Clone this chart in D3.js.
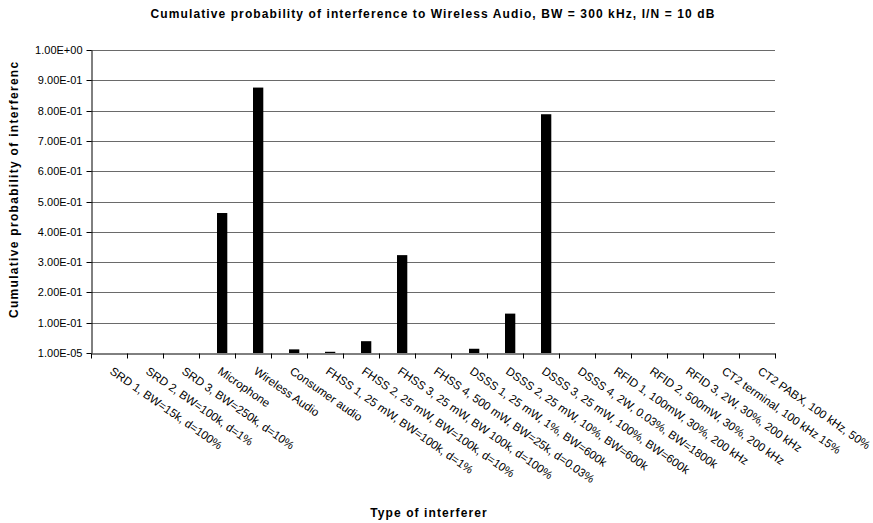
<!DOCTYPE html>
<html>
<head>
<meta charset="utf-8">
<script src="https://cdn.jsdelivr.net/npm/d3@7"></script>
<style>
  html, body { margin: 0; padding: 0; background: #fff; }
  svg { display: block; }
  text { font-family: Arial, "Liberation Sans", sans-serif; }
</style>
</head>
<body>
<svg id="chart" width="873" height="523"></svg>
<script>
const categories = [
  "SRD 1, BW=15k, d=100%",
  "SRD 2, BW=100k, d=1%",
  "SRD 3, BW=250k, d=10%",
  "Microphone",
  "Wireless Audio",
  "Consumer audio",
  "FHSS 1, 25 mW, BW=100k, d=1%",
  "FHSS 2, 25 mW, BW=100k, d=10%",
  "FHSS 3, 25 mW, BW 100k, d=100%",
  "FHSS 4, 500 mW, BW=25k, d=0.03%",
  "DSSS 1, 25 mW, 1%, BW=600k",
  "DSSS 2, 25 mW, 10%, BW=600k",
  "DSSS 3, 25 mW, 100%, BW=600k",
  "DSSS 4, 2W, 0.03%, BW=1800k",
  "RFID 1, 100mW, 30%, 200 kHz",
  "RFID 2, 500mW, 30%, 200 kHz",
  "RFID 3, 2W, 30%, 200 kHz",
  "CT2 terminal, 100 kHz 15%",
  "CT2 PABX, 100 kHz, 50%"
];
const values = [0, 0, 0, 0.462, 0.876, 0.012, 0.004, 0.039, 0.323, 0, 0.014, 0.130, 0.788, 0, 0, 0, 0, 0, 0];
const yTicks = [1e-5, 0.1, 0.2, 0.3, 0.4, 0.5, 0.6, 0.7, 0.8, 0.9, 1.0];
const title = "Cumulative probability of interference to Wireless Audio, BW = 300 kHz, I/N = 10 dB";
const xTitle = "Type of interferer";
const yTitle = "Cumulative probability of interference";

const svg = d3.select("#chart");
const M = {left: 91, right: 775, top: 50, bottom: 353};

const x = d3.scaleBand().domain(categories).range([M.left, M.right]).paddingInner(0).paddingOuter(0);
const y = d3.scaleLinear().domain([1e-5, 1]).range([M.bottom, M.top]);

function fmtE(v) {
  const s = v.toExponential(2);
  const [m, e] = s.split("e");
  const n = parseInt(e, 10);
  const sign = n < 0 ? "-" : "+";
  const a = String(Math.abs(n)).padStart(2, "0");
  return m + "E" + sign + a;
}

// gridlines
svg.append("g")
  .selectAll("line")
  .data(yTicks.slice(1))
  .join("line")
  .attr("x1", M.left).attr("x2", M.right)
  .attr("y1", d => Math.round(y(d)) + 0.5)
  .attr("y2", d => Math.round(y(d)) + 0.5)
  .attr("stroke", "#6a6a6a").attr("stroke-width", 1);

// bars
const bw = x.bandwidth() * 0.286;
svg.append("g")
  .selectAll("rect")
  .data(values.map((v, i) => ({c: categories[i], v})))
  .join("rect")
  .attr("x", d => x(d.c) + x.bandwidth() / 2)
  .attr("width", bw)
  .attr("y", d => y(Math.max(d.v, 1e-5)))
  .attr("height", d => y(1e-5) - y(Math.max(d.v, 1e-5)))
  .attr("fill", "#000");

// y axis
const yAxis = d3.axisLeft(y).tickValues(yTicks).tickFormat(fmtE).tickSizeInner(5).tickSizeOuter(0).tickPadding(4);
const gy = svg.append("g").attr("transform", `translate(${M.left + 0.5},0)`).call(yAxis);
gy.select(".domain").attr("stroke", "#000");
gy.selectAll(".tick line").attr("stroke", "#000");
gy.selectAll(".tick text").attr("font-size", 11).attr("fill", "#000")
  .attr("font-family", "Arial, 'Liberation Sans', sans-serif");
gy.selectAll(".tick").attr("transform", d => `translate(0,${Math.round(y(d)) + 0.5})`);

// x axis
const xAxis = d3.axisBottom(x).tickSize(0).tickFormat("");
const gx = svg.append("g").attr("transform", `translate(0,${M.bottom + 0.5})`).call(xAxis);
gx.select(".domain").attr("stroke", "#000");
gx.selectAll(".tick").remove();
const bounds = categories.map(c => x(c)).concat([M.right]);
gx.selectAll("line.bt").data(bounds).join("line").attr("class", "bt")
  .attr("x1", d => Math.round(d) + 0.5).attr("x2", d => Math.round(d) + 0.5)
  .attr("y1", 0).attr("y2", 5).attr("stroke", "#000");

// category labels
svg.append("g").selectAll("text")
  .data(categories)
  .join("text")
  .attr("transform", d => `translate(${x(d) + x.bandwidth() / 2},${373}) rotate(35)`)
  .attr("font-size", 11.6)
  .attr("fill", "#000")
  .text(d => d);

// title
svg.append("text")
  .attr("x", 433).attr("y", 18)
  .attr("text-anchor", "middle")
  .attr("font-size", 12).attr("font-weight", "bold")
  .attr("letter-spacing", 1.1)
  .text(title);

// x title
svg.append("text")
  .attr("x", 429).attr("y", 517)
  .attr("text-anchor", "middle")
  .attr("font-size", 12).attr("font-weight", "bold")
  .attr("letter-spacing", 1.1)
  .text(xTitle);

// y title (clipped as in original)
svg.append("clipPath").attr("id", "yclip")
  .append("rect").attr("x", 0).attr("y", 62).attr("width", 40).attr("height", 300);
svg.append("g").attr("clip-path", "url(#yclip)")
  .append("text")
  .attr("transform", "translate(18,318) rotate(-90)")
  .attr("text-anchor", "start")
  .attr("font-size", 12).attr("font-weight", "bold")
  .attr("letter-spacing", 1.3)
  .text(yTitle);
</script>
</body>
</html>
